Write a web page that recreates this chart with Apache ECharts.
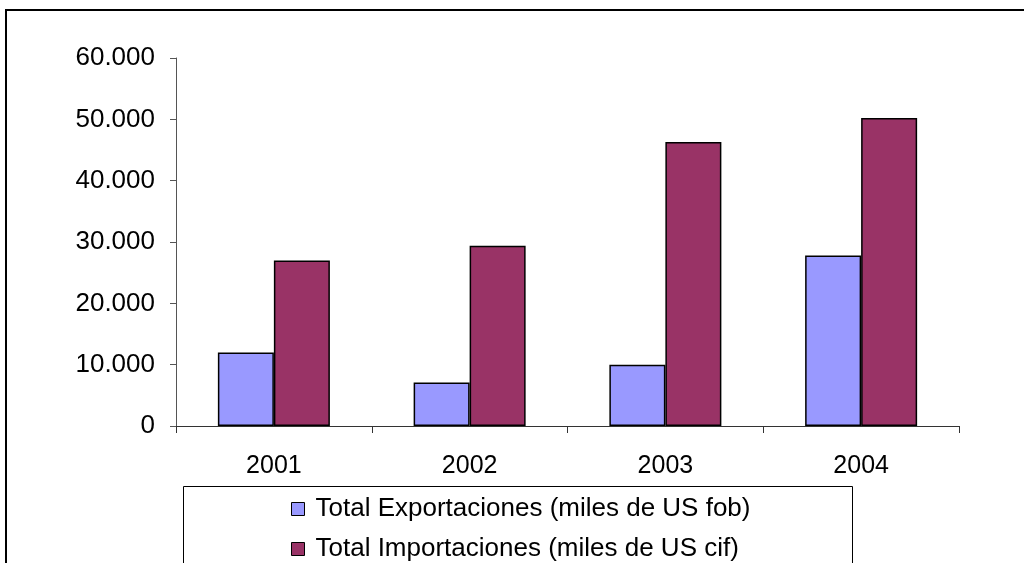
<!DOCTYPE html>
<html>
<head>
<meta charset="utf-8">
<script src="https://cdn.jsdelivr.net/npm/echarts@6/dist/echarts.min.js"></script>
<style>
  html, body { margin: 0; padding: 0; background: #fff; }
  #chart { width: 1024px; height: 563px; }
</style>
</head>
<body>
<div id="chart"></div>
<script>
// Years on the category axis
const years = ['2001', '2002', '2003', '2004'];
// Trade totals (miles de US)
const exportaciones = [12000, 7100, 10000, 27800];
const importaciones = [27000, 29400, 46300, 50200];
// Series names shown in the legend
const seriesNames = [
  'Total Exportaciones (miles de US fob)',
  'Total Importaciones (miles de US cif)'
];

const FONT = '"Liberation Sans", Arial, sans-serif';

// Spanish-style thousands separator
function fmt(v) {
  return String(v).replace(/\B(?=(\d{3})+(?!\d))/g, '.');
}

const chart = echarts.init(document.getElementById('chart'), null, { renderer: 'canvas' });

chart.setOption({
  backgroundColor: '#ffffff',
  animation: false,
  textStyle: { fontFamily: FONT },
  grid: { left: 176, right: 65, top: 58, bottom: 137, containLabel: false },
  graphic: [
    {
      type: 'rect',
      shape: { x: 6, y: 10, width: 1200, height: 800 },
      style: { fill: 'none', stroke: '#000', lineWidth: 2 },
      silent: true
    },
    {
      type: 'rect',
      shape: { x: 183.5, y: 486.5, width: 669, height: 200 },
      style: { fill: '#fff', stroke: '#000', lineWidth: 1 },
      silent: true,
      z: 0
    }
  ],
  legend: {
    orient: 'vertical',
    left: 291,
    top: 495,
    height: 120,
    padding: 0,
    z: 10,
    itemWidth: 13,
    itemHeight: 13,
    itemGap: 12,
    icon: 'rect',
    data: seriesNames,
    textStyle: { fontFamily: FONT, fontSize: 26, color: '#000', lineHeight: 28, padding: [0, 0, 0, 6] },
    itemStyle: { borderColor: '#000', borderWidth: 1 }
  },
  xAxis: {
    type: 'category',
    data: years,
    axisLine: { show: true, lineStyle: { color: '#333', width: 1 } },
    axisTick: { show: true, length: 7, alignWithLabel: false, lineStyle: { color: '#333' } },
    axisLabel: { fontFamily: FONT, fontSize: 25, color: '#000', margin: 28 },
    splitLine: { show: false }
  },
  yAxis: {
    type: 'value',
    min: 0,
    max: 60000,
    interval: 10000,
    axisLine: { show: true, lineStyle: { color: '#555', width: 1 } },
    axisTick: { show: true, length: 6, lineStyle: { color: '#555' } },
    axisLabel: { fontFamily: FONT, fontSize: 26, color: '#000', margin: 21, formatter: fmt },
    splitLine: { show: false }
  },
  series: [
    {
      name: seriesNames[0],
      type: 'bar',
      data: exportaciones,
      barWidth: 56,
      barGap: '0%',
      itemStyle: { color: '#9999FF', borderColor: '#000', borderWidth: 1.5 }
    },
    {
      name: seriesNames[1],
      type: 'bar',
      data: importaciones,
      barWidth: 56,
      barGap: '0%',
      itemStyle: { color: '#993366', borderColor: '#000', borderWidth: 1.5 }
    }
  ]
});
</script>
</body>
</html>
